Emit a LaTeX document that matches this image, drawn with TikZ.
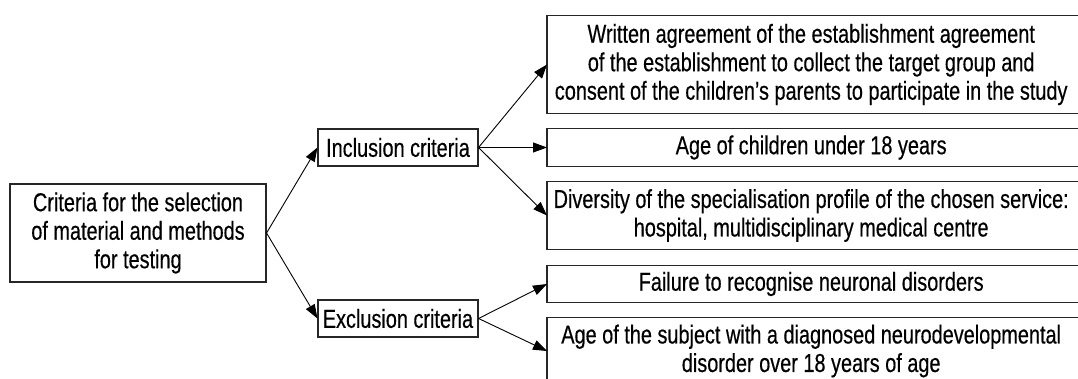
\documentclass[tikz,border=0pt]{standalone}
\usepackage{fontspec}
\setmainfont{Liberation Sans}[FakeStretch=0.765,FakeBold=0.4]
\usetikzlibrary{arrows.meta}
\begin{document}
\begin{tikzpicture}[x=1pt,y=-1pt,
  txt/.style={inner sep=0pt, align=center, font=\fontsize{26}{28.5}\selectfont, text=black},
  box/.style={txt, draw=black!85, line width=1.1pt},
  rbox/.style={txt, anchor=west, minimum width=528pt},
  rline/.style={draw=black!85, line width=1.1pt},
  arr/.style={line width=0.9pt, -{Triangle[length=14pt,width=10pt]}}
]
\useasboundingbox (0,0) rectangle (1078,379);
\clip (0,0) rectangle (1078,379);

\node[box, minimum width=256pt, minimum height=98pt] (main) at (138,233)
  {Criteria for the selection\\of material and methods\\for testing};
\node[box, minimum width=160pt, minimum height=37pt] (inc) at (398,147.5) {Inclusion criteria};
\node[box, minimum width=160pt, minimum height=37pt] (exc) at (398,318.5) {Exclusion criteria};

\node[rbox, minimum height=97pt] (r1) at (547,64.5)
  {Written agreement of the establishment agreement\\of the establishment to collect the target group and\\consent of the children’s parents to participate in the study};
\node[rbox, minimum height=37pt] (r2) at (547,147.5) {Age of children under 18 years};
\node[rbox, minimum height=67pt] (r3) at (547,215.5)
  {Diversity of the specialisation profile of the chosen service:\\hospital, multidisciplinary medical centre};
\node[rbox, minimum height=36pt] (r4) at (547,284) {Failure to recognise neuronal disorders};
\node[rbox, minimum height=66pt] (r5) at (547,351)
  {Age of the subject with a diagnosed neurodevelopmental\\disorder over 18 years of age};

\foreach \n in {r1,r2,r3,r4,r5}
  \draw[rline] (\n.north west) rectangle ([xshift=20pt]\n.south east);

\draw[arr] (main.east) -- (inc.west);
\draw[arr] (main.east) -- (exc.west);
\draw[arr] (inc.east) -- (r1.west);
\draw[arr] (inc.east) -- (r2.west);
\draw[arr] (inc.east) -- (r3.west);
\draw[arr] (exc.east) -- (r4.west);
\draw[arr] (exc.east) -- (r5.west);
\end{tikzpicture}
\end{document}
